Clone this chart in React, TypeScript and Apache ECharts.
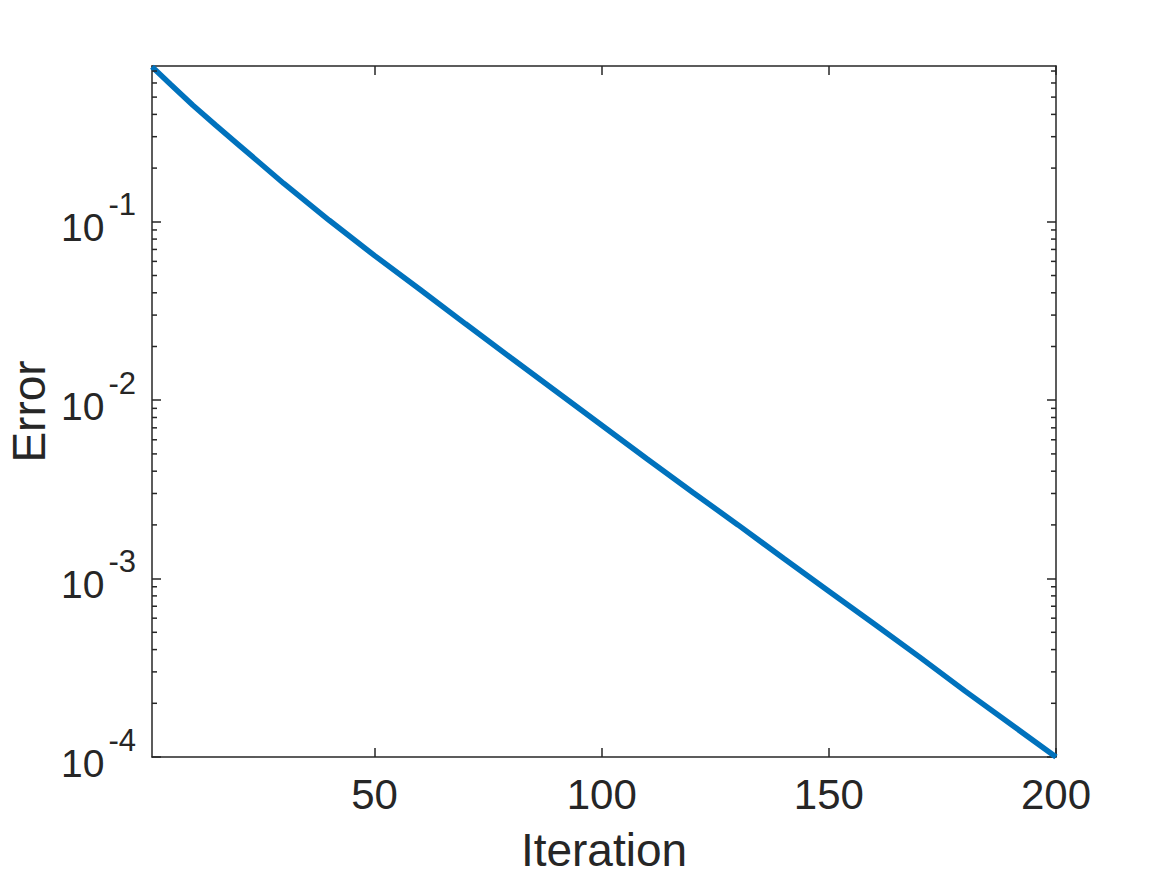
import React, { useEffect, useRef } from "react";
import * as echarts from "echarts";

// Data
const iterations = [1, 5, 10, 15, 20, 30, 40, 50, 60, 70, 80, 90, 100, 110, 120, 130, 140, 150, 160, 170, 180, 190, 200];
const errors = [0.74, 0.593, 0.45, 0.348, 0.271, 0.164, 0.102, 0.0646, 0.0417, 0.0268, 0.0173, 0.0112, 0.00724, 0.00468, 0.00305, 0.002, 0.0013, 0.00085, 0.000556, 0.000363, 0.000234, 0.000153, 0.0001];

const xTicks = [50, 100, 150, 200];
const yMajorTicks = [1e-4, 1e-3, 1e-2, 1e-1];
const yMinorTicks = [
  2e-4, 3e-4, 4e-4, 5e-4, 6e-4, 7e-4, 8e-4, 9e-4,
  2e-3, 3e-3, 4e-3, 5e-3, 6e-3, 7e-3, 8e-3, 9e-3,
  2e-2, 3e-2, 4e-2, 5e-2, 6e-2, 7e-2, 8e-2, 9e-2,
  0.2, 0.3, 0.4, 0.5, 0.6, 0.7,
];

const X_MIN = 1;
const X_MAX = 200;
const Y_MIN = 1e-4;
const Y_MAX = 0.747;

const FONT = "'Liberation Sans', Arial, Helvetica, sans-serif";
const INK = "#262626";

export default function App() {
  const ref = useRef<HTMLDivElement>(null);

  useEffect(() => {
    if (!ref.current) return;
    const chart = echarts.init(ref.current, undefined, { renderer: "svg" });

    const axisLine = { show: true, onZero: false, lineStyle: { color: INK, width: 1.5 } };
    const gridBox = () => ({ left: 152, right: 111, top: 66, bottom: 118, containLabel: false, outerBoundsMode: "none" });

    const xAxisBase = (pos: "bottom" | "top", withLabels: boolean) => ({
      type: "value",
      gridIndex: 0,
      position: pos,
      min: X_MIN,
      max: X_MAX,
      axisLine,
      splitLine: { show: false },
      axisTick: { show: true, inside: true, length: 9, customValues: xTicks, lineStyle: { color: INK, width: 1.5 } },
      axisLabel: withLabels
        ? { show: true, customValues: xTicks, fontSize: 42, color: INK, fontFamily: FONT, margin: 16 }
        : { show: false },
      name: withLabels ? "Iteration" : "",
      nameLocation: "middle",
      nameGap: 70,
      nameMoveOverlap: false,
      nameTextStyle: { fontSize: 46, color: INK, fontFamily: FONT },
    });

    const yAxisBase = (g: number, pos: "left" | "right", withLabels: boolean) => ({
      type: "log",
      logBase: 10,
      gridIndex: g,
      position: pos,
      min: Y_MIN,
      max: Y_MAX,
      axisLine,
      splitLine: { show: false },
      axisTick: {
        show: true,
        inside: true,
        length: 9,
        customValues: yMajorTicks,
        lineStyle: { color: INK, width: 1.5 },
      },
      axisLabel: withLabels
        ? {
            show: true,
            customValues: yMajorTicks,
            margin: 16,
            formatter: (v: number) => `{b|10}{s|${Math.round(Math.log10(v))}}`,
            rich: {
              b: { fontSize: 39, color: INK, fontFamily: FONT, lineHeight: 39, padding: [12, 0, 0, 0] },
              s: { fontSize: 31, color: INK, fontFamily: FONT, lineHeight: 31, padding: [0, 0, 34, 4] },
            },
          }
        : { show: false },
      name: withLabels ? "Error" : "",
      nameLocation: "middle",
      nameGap: 100,
      nameMoveOverlap: false,
      nameTextStyle: { fontSize: 46, color: INK, fontFamily: FONT },
    });

    chart.setOption({
      animation: false,
      backgroundColor: "#ffffff",
      grid: [gridBox(), gridBox()],
      xAxis: [
        xAxisBase("bottom", true),
        xAxisBase("top", false),
        { type: "value", gridIndex: 1, min: X_MIN, max: X_MAX, show: false },
      ],
      yAxis: [yAxisBase(0, "left", true), yAxisBase(1, "right", false)],
      series: [
        {
          type: "line",
          xAxisIndex: 0,
          yAxisIndex: 0,
          data: iterations.map((it, i) => [it, errors[i]]),
          showSymbol: false,
          symbol: "none",
          clip: false,
          lineStyle: { color: "#0072BD", width: 5.5 },
          smooth: false,
        },
      ],
    });

    // Minor log ticks on both sides, placed with the y axis scale
    const xl = chart.convertToPixel({ xAxisIndex: 0 }, X_MIN) as number;
    const xr = chart.convertToPixel({ xAxisIndex: 0 }, X_MAX) as number;
    const minor: any[] = [];
    yMinorTicks.forEach((v) => {
      const y = chart.convertToPixel({ yAxisIndex: 0 }, v) as number;
      minor.push({ type: "line", z: 50, shape: { x1: xl, y1: y, x2: xl + 5, y2: y }, style: { stroke: INK, lineWidth: 1.5 }, silent: true });
      minor.push({ type: "line", z: 50, shape: { x1: xr - 5, y1: y, x2: xr, y2: y }, style: { stroke: INK, lineWidth: 1.5 }, silent: true });
    });
    chart.setOption({ graphic: minor });

    return () => chart.dispose();
  }, []);

  return (
    <div
      ref={ref}
      style={{ position: "fixed", left: 0, top: 0, width: 1167, height: 875, background: "#fff" }}
    />
  );
}
